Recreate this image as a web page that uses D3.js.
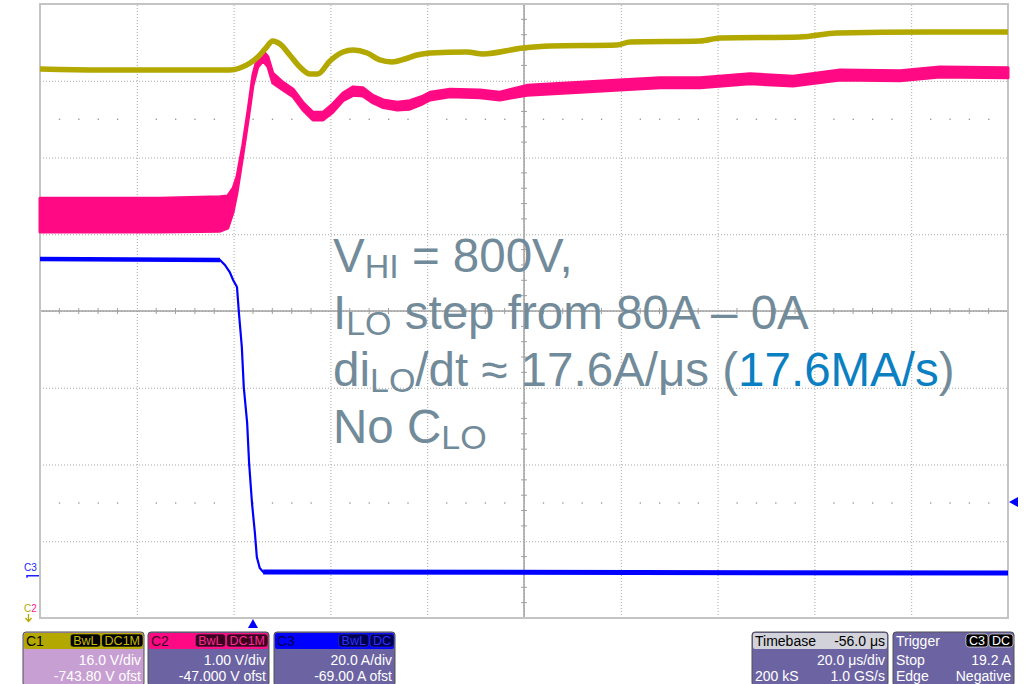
<!DOCTYPE html>
<html><head><meta charset="utf-8">
<script src="https://cdn.jsdelivr.net/npm/d3@7"></script>
<style>
html,body{margin:0;padding:0;background:#fff;}
svg{display:block;}
</style></head>
<body>
<svg id="chart" width="1033" height="684"></svg>
<script>
// ---- Data ----
// Timebase: 20 µs/div, delay -56 µs  -> visible window -44 ... 156 µs (t=0 at trigger)
const timeWindow = [-44, 156];
// Channel settings
const c1Scale = 16.0, c1Offset = -743.80;   // V/div, V ofst
const c2Scale = 1.00, c2Offset = -47.000;   // V/div, V ofst
const c3Scale = 20.0, c3Offset = -69.00;    // A/div, A ofst
const triggerLevel = 19.2;                  // A, C3, negative edge

// C1 (V_HI, olive)
const c1Time = [-44, -31.6, -19.2, -10.9, -4.8, -2.7, -0.6, 1.0, 2.5, 4.1, 5.6, 7.6, 9.7, 11.8, 13.4, 15.9, 18.6, 20.7, 23.6, 26.2, 28.7, 31.4, 33.9, 36.6, 44.2, 47.5, 55.8, 61.4, 75.2, 77.9, 92.4, 96.5, 113.0, 120.7, 139.3, 156.0];
const c1Volt = [794.25, 794.04, 794.04, 794.04, 794.04, 794.46, 795.5, 796.75, 798.42, 800.09, 799.46, 797.17, 794.67, 793.21, 793.21, 795.92, 797.79, 798.21, 797.59, 796.13, 795.71, 796.33, 797.17, 797.59, 797.79, 797.38, 798.63, 799.04, 799.25, 799.88, 800.09, 800.71, 800.92, 801.75, 801.96, 801.96];

// C2 (magenta) min/max envelope
const c2Time = [-44, -31.6, -19.2, -6.8, -5.2, -4.1, -3.3, -2.1, -1.0, 0, 1.0, 2.1, 3.1, 4.1, 6.2, 8.3, 10.3, 12.4, 14.5, 16.5, 18.6, 20.7, 22.7, 24.8, 26.9, 29.8, 32.4, 35.1, 36.6, 40.7, 46.9, 51.0, 56.6, 64.9, 75.8, 84.1, 92.4, 102.7, 111.6, 121.3, 133.7, 141.9, 156.0];
const c2Max = [48.47, 48.47, 48.47, 48.49, 48.50, 48.60, 48.75, 49.16, 49.62, 50.08, 50.31, 50.39, 50.31, 50.10, 49.98, 49.89, 49.72, 49.59, 49.59, 49.70, 49.84, 49.92, 49.91, 49.81, 49.75, 49.72, 49.74, 49.80, 49.85, 49.89, 49.88, 49.85, 49.94, 49.97, 50.01, 50.04, 50.04, 50.09, 50.06, 50.14, 50.13, 50.18, 50.17];
const c2Min = [48.03, 48.03, 48.03, 48.04, 48.08, 48.29, 48.54, 49.03, 49.49, 49.94, 50.18, 50.26, 50.18, 49.97, 49.88, 49.79, 49.62, 49.49, 49.49, 49.59, 49.74, 49.81, 49.80, 49.71, 49.65, 49.62, 49.63, 49.70, 49.75, 49.79, 49.78, 49.75, 49.81, 49.84, 49.88, 49.91, 49.91, 49.96, 49.93, 50.01, 50.00, 50.05, 50.04];

// C3 (I_LO, blue)
const c3Time = [-44, -6.8, -5.8, -4.8, -4.1, -3.3, -2.9, -2.3, -1.9, -1.2, -0.8, -0.2, 0.4, 0.8, 1.4, 2.1, 156];
const c3Amp  = [82.55, 82.29, 80.99, 79.16, 77.08, 75.25, 68.48, 59.62, 49.20, 39.81, 29.39, 18.97, 11.15, 4.89, 2.03, 0.99, 0.73];

// Annotation text
const noteLines = [
  [["V",""],["HI","sub"],[" = 800V,",""]],
  [["I",""],["LO","sub"],[" step from 80A \u2013 0A",""]],
  [["di",""],["LO","sub"],["/dt \u2248 17.6A/\u03bcs (",""],["17.6MA/s","blue"],[")",""]],
  [["No C",""],["LO","sub"]]
];

// Status panels
const chanPanels = [
  {name:"C1", badges:["BwL","DC1M"], rows:["16.0 V/div","-743.80 V ofst"]},
  {name:"C2", badges:["BwL","DC1M"], rows:["1.00 V/div","-47.000 V ofst"]},
  {name:"C3", badges:["BwL","DC"],   rows:["20.0 A/div","-69.00 A ofst"]}
];
const timebaseInfo = ["Timebase","-56.0 \u03bcs","20.0 \u03bcs/div","200 kS","1.0 GS/s"];
const triggerInfo  = ["Trigger",["C3","DC"],"Stop","19.2 A","Edge","Negative"];

// ---- Layout ----
const svg = d3.select("#chart");
const L = 40, R = 1008, T = 4, B = 618;
const NX = 10, NY = 8;

const x = d3.scaleLinear().domain(timeWindow).range([L, R]);
const xDiv = d3.scaleLinear().domain([0, NX]).range([L, R]);
const yDiv = d3.scaleLinear().domain([0, NY]).range([T, B]);
function chanScale(vdiv, ofst){
  const c = -ofst;
  return d3.scaleLinear().domain([c - 4*vdiv, c + 4*vdiv]).range([B, T]);
}
const y1 = chanScale(c1Scale, c1Offset);
const y2 = chanScale(c2Scale, c2Offset);
const y3 = chanScale(c3Scale, c3Offset);

const gridCol = "#a8a8a8";
// dotted grid via axes
const gx = svg.append("g").attr("transform", `translate(0,${B})`)
  .call(d3.axisBottom(xDiv).tickValues(d3.range(1, NX)).tickSize(-(B - T)).tickFormat(""));
const gy = svg.append("g").attr("transform", `translate(${L},0)`)
  .call(d3.axisLeft(yDiv).tickValues(d3.range(1, NY)).tickSize(-(R - L)).tickFormat(""));
[gx, gy].forEach(g => {
  g.select(".domain").remove();
  g.selectAll(".tick line").attr("stroke", gridCol).attr("stroke-width", 1).attr("stroke-dasharray", "1,2");
});
// minor dot rows
const dotRows = [1.5, 6.5];
const minorX = d3.range(0, NX * 5 + 1).map(i => i / 5).filter(v => Math.abs(v - Math.round(v)) > 1e-6);
dotRows.forEach(r => {
  svg.append("g").selectAll("rect").data(minorX).join("rect")
    .attr("x", d => xDiv(d) - 0.5).attr("y", yDiv(r) - 0.5).attr("width", 1.3).attr("height", 1.3)
    .attr("fill", "#909090");
});
// center cross with ticks
const cx = xDiv(NX / 2), cy = yDiv(NY / 2);
svg.append("line").attr("x1", L).attr("x2", R).attr("y1", cy).attr("y2", cy).attr("stroke", "#a0a0a0").attr("stroke-width", 1.5);
svg.append("line").attr("x1", cx).attr("x2", cx).attr("y1", T).attr("y2", B).attr("stroke", "#a0a0a0").attr("stroke-width", 1.5);
const minorY = d3.range(0, NY * 5 + 1).map(i => i / 5).filter(v => Math.abs(v - Math.round(v)) > 1e-6);
svg.append("g").selectAll("line").data(minorX).join("line")
  .attr("x1", d => xDiv(d)).attr("x2", d => xDiv(d)).attr("y1", cy - 3).attr("y2", cy + 3)
  .attr("stroke", "#a0a0a0").attr("stroke-width", 1);
svg.append("g").selectAll("line").data(minorY).join("line")
  .attr("y1", d => yDiv(d)).attr("y2", d => yDiv(d)).attr("x1", cx - 3).attr("x2", cx + 3)
  .attr("stroke", "#a0a0a0").attr("stroke-width", 1);
// border
svg.append("rect").attr("x", L).attr("y", T).attr("width", R - L).attr("height", B - T)
  .attr("fill", "none").attr("stroke", "#c4c4c4").attr("stroke-width", 2);

// ---- Traces ----
const c1Data = c1Time.map((t, i) => ({t, v: c1Volt[i]}));
const c2Data = c2Time.map((t, i) => ({t, hi: c2Max[i], lo: c2Min[i]}));
const c3Data = c3Time.map((t, i) => ({t, v: c3Amp[i]}));

svg.append("path").datum(c2Data)
  .attr("d", d3.area().x(d => x(d.t)).y0(d => y2(d.lo)).y1(d => y2(d.hi)))
  .attr("fill", "#ff0a84").attr("stroke", "#ff0a84").attr("stroke-width", 3).attr("stroke-linejoin", "round");

svg.append("path").datum(c1Data)
  .attr("d", d3.line().x(d => x(d.t)).y(d => y1(d.v)).curve(d3.curveMonotoneX))
  .attr("fill", "none").attr("stroke", "#b2a800").attr("stroke-width", 5.5);

const c3Line = d3.line().x(d => x(d.t)).y(d => y3(d.v));
svg.append("path").datum(c3Data).attr("d", c3Line)
  .attr("fill", "none").attr("stroke", "#0000ff").attr("stroke-width", 2.2);
svg.append("path").datum(c3Data.slice(0, 2)).attr("d", c3Line)
  .attr("fill", "none").attr("stroke", "#0000ff").attr("stroke-width", 4.5);
svg.append("path").datum(c3Data.slice(-2)).attr("d", c3Line)
  .attr("fill", "none").attr("stroke", "#0000ff").attr("stroke-width", 5);

// ---- Markers ----
const tx = x(0);
svg.append("path").attr("d", `M${tx - 5},628 L${tx + 5},628 L${tx},619 Z`).attr("fill", "#0000ff");
const ty = y3(triggerLevel);
svg.append("path").attr("d", `M${R + 1},${ty} L${R + 10},${ty - 5} L${R + 10},${ty + 5} Z`).attr("fill", "#0000ff");
// C3 ground marker
const g3 = y3(0);
svg.append("text").attr("x", 24).attr("y", g3 - 5).text("C3")
  .attr("font-family", "Liberation Sans, Arial, sans-serif").attr("font-size", 10).attr("fill", "#2020ff");
svg.append("path").attr("d", `M27,${g3 + 2} L27,${g3} L39,${g3}`).attr("fill", "none").attr("stroke", "#2020ff").attr("stroke-width", 1.5);
// C1/C2 off-screen marker
const offTxt = svg.append("text").attr("x", 24).attr("y", 612)
  .attr("font-family", "Liberation Sans, Arial, sans-serif").attr("font-size", 10);
offTxt.append("tspan").attr("fill", "#b2a800").text("C");
offTxt.append("tspan").attr("fill", "#ff2090").text("2");
svg.append("path").attr("d", "M28.5,614 L28.5,621 M25.5,618 L28.5,621.5 L31.5,618").attr("fill", "none").attr("stroke", "#b2a800").attr("stroke-width", 1.3);

// ---- Annotation ----
const noteX = 333, noteY0 = 272, noteDY = 57;
const fsMain = 47.5, fsSub = 34, subShift = 6;
const noteG = svg.append("g").attr("font-family", "Liberation Sans, Arial, sans-serif").attr("fill", "#728b9a");
noteLines.forEach((line, i) => {
  const t = noteG.append("text").attr("x", noteX).attr("y", noteY0 + i * noteDY).attr("font-size", fsMain);
  let shifted = false;
  line.forEach(([s, kind]) => {
    const sp = t.append("tspan").text(s);
    if (kind === "sub") { sp.attr("font-size", fsSub).attr("dy", subShift); shifted = true; }
    else {
      if (shifted) { sp.attr("dy", -subShift); shifted = false; }
      if (kind === "blue") sp.attr("fill", "#0a80c2");
    }
  });
});

// ---- Status panels ----
const pFont = "Liberation Sans Narrow, Arial Narrow, Liberation Sans, Arial, sans-serif";
const panelTop = 632, panelH = 54, headH = 16;
const bodyCol = "#6c64a2";
const chanStyle = [
  {x: 23, w: 121, head: "#b3a800", body: "#c89fd2", name: "#000", badgeBg: "#000", badgeFg: "#c8bb00"},
  {x: 148, w: 121, head: "#ff0a84", body: bodyCol, name: "#3a0020", badgeBg: "#3a0020", badgeFg: "#ff2a94"},
  {x: 274, w: 121, head: "#0000ff", body: bodyCol, name: "#000050", badgeBg: "#000050", badgeFg: "#3030ff"}
];
function badges(g, list, right, bg, fg){
  let xr = right;
  list.slice().reverse().forEach(b => {
    const t = g.append("text").attr("y", panelTop + 13).attr("font-size", 12.5).attr("font-family", pFont)
      .attr("fill", fg).attr("text-anchor", "end").text(b);
    const w = t.node().getComputedTextLength();
    t.attr("x", xr - 3);
    g.insert("rect", "text").attr("x", xr - w - 6).attr("y", panelTop + 2).attr("width", w + 6).attr("height", 13)
      .attr("rx", 3).attr("fill", bg).attr("stroke", fg).attr("stroke-width", 0.6);
    xr -= w + 7;
  });
}
chanPanels.forEach((p, i) => {
  const s = chanStyle[i];
  const g = svg.append("g");
  g.append("rect").attr("x", s.x).attr("y", panelTop).attr("width", s.w).attr("height", panelH).attr("rx", 3)
    .attr("fill", s.body).attr("stroke", "#505050").attr("stroke-width", 1);
  g.append("rect").attr("x", s.x + 1).attr("y", panelTop + 1).attr("width", s.w - 2).attr("height", headH).attr("rx", 2)
    .attr("fill", s.head);
  g.append("text").attr("x", s.x + 3).attr("y", panelTop + 14).attr("font-size", 14).attr("font-family", pFont)
    .attr("fill", s.name).text(p.name);
  badges(g, p.badges, s.x + s.w - 1, s.badgeBg, s.badgeFg);
  p.rows.forEach((r, j) => {
    g.append("text").attr("x", s.x + s.w - 3).attr("y", panelTop + 33 + j * 16).attr("text-anchor", "end")
      .attr("font-size", 14).attr("font-family", pFont).attr("fill", "#fff").text(r);
  });
});
// Timebase
{
  const x0 = 752, w = 136, g = svg.append("g");
  g.append("rect").attr("x", x0).attr("y", panelTop).attr("width", w).attr("height", panelH).attr("rx", 3)
    .attr("fill", bodyCol).attr("stroke", "#505050");
  g.append("rect").attr("x", x0 + 1).attr("y", panelTop + 1).attr("width", w - 2).attr("height", headH).attr("rx", 2)
    .attr("fill", "#d2d2da");
  const tt = (s, xx, yy, anchor, col) => g.append("text").attr("x", xx).attr("y", yy).attr("text-anchor", anchor)
    .attr("font-size", 14).attr("font-family", pFont).attr("fill", col).text(s);
  tt(timebaseInfo[0], x0 + 3, panelTop + 14, "start", "#000");
  tt(timebaseInfo[1], x0 + w - 3, panelTop + 14, "end", "#000");
  tt(timebaseInfo[2], x0 + w - 3, panelTop + 33, "end", "#fff");
  tt(timebaseInfo[3], x0 + 3, panelTop + 49, "start", "#fff");
  tt(timebaseInfo[4], x0 + w - 3, panelTop + 49, "end", "#fff");
}
// Trigger
{
  const x0 = 893, w = 121, g = svg.append("g");
  g.append("rect").attr("x", x0).attr("y", panelTop).attr("width", w).attr("height", panelH).attr("rx", 3)
    .attr("fill", bodyCol).attr("stroke", "#505050");
  const tt = (s, xx, yy, anchor) => g.append("text").attr("x", xx).attr("y", yy).attr("text-anchor", anchor)
    .attr("font-size", 14).attr("font-family", pFont).attr("fill", "#fff").text(s);
  tt(triggerInfo[0], x0 + 3, panelTop + 14, "start");
  badges(g, triggerInfo[1], x0 + w - 1, "#000", "#fff");
  tt(triggerInfo[2], x0 + 3, panelTop + 33, "start");
  tt(triggerInfo[3], x0 + w - 3, panelTop + 33, "end");
  tt(triggerInfo[4], x0 + 3, panelTop + 49, "start");
  tt(triggerInfo[5], x0 + w - 3, panelTop + 49, "end");
}
</script>
</body></html>
